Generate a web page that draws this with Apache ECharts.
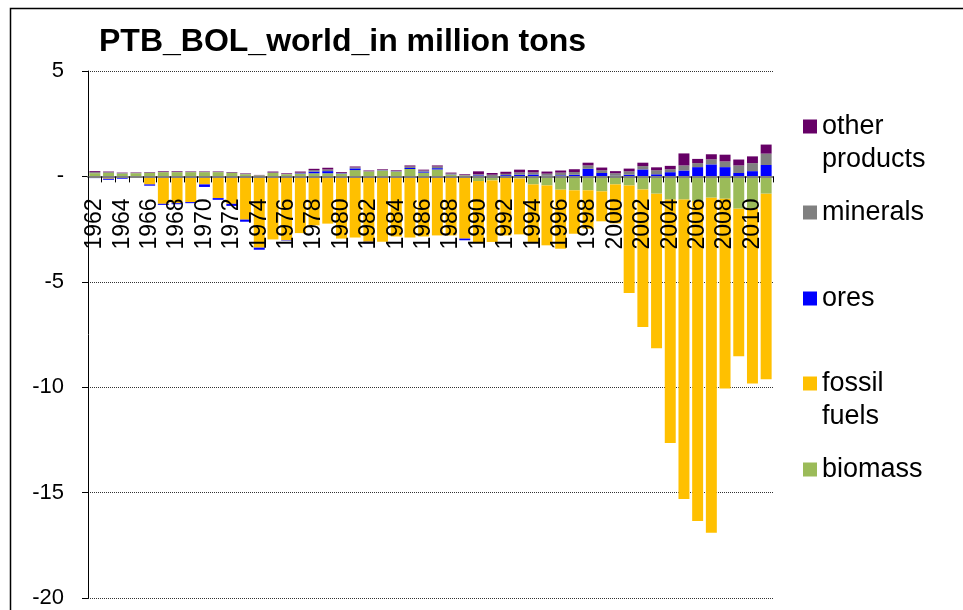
<!DOCTYPE html>
<html>
<head>
<meta charset="utf-8">
<script src="https://cdn.jsdelivr.net/npm/echarts@6/dist/echarts.min.js"></script>
<style>
html,body{margin:0;padding:0;background:#fff;}
#chart{width:963px;height:610px;}
</style>
</head>
<body>
<div id="chart"></div>
<script>
const years = [];
for (let y = 1962; y <= 2011; y++) years.push(String(y));

const biomass = [0.15,0.17,0.13,0.15,0.17,0.2,0.2,0.2,0.2,0.2,
  0.16,0.1,0.04,0.16,0.1,0.13,0.15,0.15,0.12,0.3,
  0.23,0.28,0.22,0.35,0.18,0.33,0.08,0.04,-0.22,-0.19,
  -0.05,-0.1,-0.38,-0.43,-0.63,-0.66,-0.66,-0.71,-0.38,-0.43,
  -0.62,-0.82,-1.1,-1.1,-1.17,-1.01,-1.06,-1.53,-1.53,-0.82];
const fossilFuels = [-0.02,-0.11,-0.03,0,-0.38,-1.3,-1.27,-1.22,-0.38,-1.03,
  -1.3,-2.05,-3.38,-2.99,-3.03,-2.69,-2.32,-2.24,-2.95,-2.9,
  -3.1,-3.1,-2.85,-2.9,-2.85,-2.8,-2.8,-2.95,-2.94,-2.92,
  -2.75,-2.65,-2.73,-2.84,-2.8,-2.06,-1.82,-1.42,-1.85,-5.1,
  -6.53,-7.33,-11.55,-14.2,-15.18,-15.9,-9.0,-7.0,-8.3,-8.8];
const ores = [-0.06,-0.05,-0.08,-0.05,-0.06,-0.05,-0.05,-0.05,-0.12,-0.08,
  -0.1,-0.1,-0.1,0,-0.02,0.02,0.08,0.1,0.02,0.08,
  -0.08,0.01,0.01,0.05,0.05,0.06,0.01,-0.08,0.05,0.02,
  0.06,0.08,0.09,0.03,0.05,0.08,0.36,0.16,0.03,0.08,
  0.33,0.1,0.2,0.28,0.44,0.57,0.44,0.16,0.25,0.54];
const minerals = [0.05,0.03,0.03,0.02,0.02,0.02,0.02,0.02,0.02,0.02,
  0.03,0.03,0.02,0.03,0.02,0.03,0.07,0.08,0.03,0.05,
  0.02,0.02,0.03,0.07,0.05,0.08,0.05,0.02,0.05,0.06,
  0.06,0.11,0.1,0.1,0.13,0.13,0.16,0.13,0.12,0.16,
  0.16,0.19,0.14,0.24,0.19,0.24,0.27,0.36,0.38,0.54];
const otherProducts = [0.05,0.03,0.02,0.02,0.02,0.03,0.03,0.02,0.02,0.02,
  0.02,0.02,0.01,0.04,0.03,0.05,0.06,0.08,0.04,0.04,
  0.03,0.03,0.03,0.05,0.04,0.05,0.04,0.04,0.14,0.08,
  0.1,0.13,0.11,0.1,0.1,0.13,0.13,0.13,0.1,0.13,
  0.16,0.14,0.16,0.57,0.2,0.24,0.32,0.28,0.32,0.43];

const seriesNames = ['biomass','fossil fuels','ores','minerals','other products'];
const seriesColors = ['#9BBB59','#FFC000','#0000FF','#808080','#660066'];
const seriesData = [biomass, fossilFuels, ores, minerals, otherProducts];

const FONT = '"Liberation Sans", Arial, sans-serif';

const chart = echarts.init(document.getElementById('chart'), null, {renderer:'canvas'});

function legendFor(name, top, label){
  return {
    data:[name], left:798, top:top, orient:'vertical',
    icon:'rect', itemWidth:14, itemHeight:14, itemGap:0,
    selectedMode:false,
    formatter: () => label,
    textStyle:{fontFamily:FONT, fontSize:27, color:'#000', lineHeight:33}
  };
}

const GRID_TOP = 71, GRID_BOTTOM_PX = 598;
const Y_MIN = -20, Y_MAX = 5;
const zeroY = GRID_TOP + (Y_MAX - 0) / (Y_MAX - Y_MIN) * (GRID_BOTTOM_PX - GRID_TOP);

chart.setOption({
  animation:false,
  backgroundColor:'#fff',
  title:{text:'PTB_BOL_world_in million tons', left:94, top:21,
    textStyle:{fontFamily:FONT, fontWeight:'bold', fontSize:32, color:'#000'}},
  graphic:[{type:'rect', shape:{x:10.5,y:8.5,width:1200,height:800},
    style:{fill:null, stroke:'#000', lineWidth:1.5}, silent:true}],
  legend:[
    legendFor('other products', 72, '\nother\nproducts'),
    legendFor('minerals', 191, 'minerals'),
    legendFor('ores', 277, 'ores'),
    legendFor('fossil fuels', 329, '\nfossil\nfuels'),
    legendFor('biomass', 448, 'biomass')
  ],
  grid:{left:88, right:190, top:GRID_TOP, bottom:610-GRID_BOTTOM_PX, containLabel:false, outerBoundsMode:'none'},
  xAxis:{type:'category', data:years, boundaryGap:true, z:10,
    offset: -(GRID_BOTTOM_PX - zeroY),
    axisLine:{onZero:false, lineStyle:{color:'#808080', width:2}},
    axisTick:{show:true, interval:0, length:6, lineStyle:{color:'#000', width:1}},
    axisLabel:{interval:1, rotate:90, margin:22, fontFamily:FONT, fontSize:23, color:'#000'},
    splitLine:{show:false}},
  yAxis:{type:'value', min:Y_MIN, max:Y_MAX, interval:5,
    axisLine:{show:true, lineStyle:{color:'#000', width:1}},
    axisTick:{show:true, length:6, lineStyle:{color:'#000'}},
    axisLabel:{margin:24, fontFamily:FONT, fontSize:22, color:'#000',
      formatter: v => v === 0 ? '-' : String(v)},
    splitLine:{show:true, lineStyle:{color:'#333', type:'dotted', width:1}}},
  series: seriesNames.map((n,i)=>({
    name:n, type:'bar', stack:'total', data:seriesData[i],
    barWidth:'80%',
    itemStyle:{color:seriesColors[i]}
  }))
});
</script>
</body>
</html>
